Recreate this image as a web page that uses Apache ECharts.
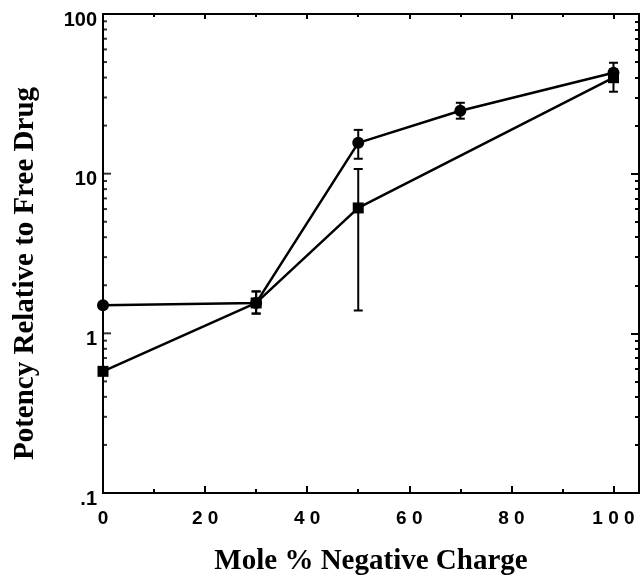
<!DOCTYPE html>
<html><head><meta charset="utf-8">
<script src="https://cdn.jsdelivr.net/npm/echarts@6/dist/echarts.min.js"></script>
<style>html,body{margin:0;padding:0;background:#fff}#c{width:641px;height:578px}</style>
</head><body><div id="c"></div>
<script>
const circleX = [0, 30, 50, 70, 100];
const circleY = [1.5, 1.55, 15.6, 24.8, 42.9];
const circleLow = [null, 1.33, 12.4, 22.1, 37.5];
const circleHigh = [null, 1.83, 18.8, 27.8, 49.5];
const squareX = [0, 30, 50, 100];
const squareY = [0.578, 1.55, 6.1, 39.9];
const squareLow = [null, 1.33, 1.39, 32.6];
const squareHigh = [null, 1.83, 10.7, 45];
const xMajorTicks = [0, 20, 40, 60, 80, 100];
const xMinorTicks = [10, 30, 50, 70, 90];
const xTickLabels = ['0', '2 0', '4 0', '6 0', '8 0', '1 0 0'];
const yMajorTicks = [0.1, 1, 10, 100];
const yMinorTicks = [0.2, 0.3, 0.4, 0.5, 0.6, 0.7, 0.8, 0.9, 2, 3, 4, 5, 6, 7, 8, 9, 20, 30, 40, 50, 60, 70, 80, 90];
const yTickLabels = ['.1', '1', '10', '100'];
const xTitle = 'Mole % Negative Charge';
const yTitle = 'Potency Relative to Free Drug';

const chart = echarts.init(document.getElementById('c'), null, {renderer: 'canvas'});
const black = '#000';
const gridRect = {left: 103, right: 2, top: 14, bottom: 85, containLabel: false, outerBoundsMode: 'none'};

function xAx(grid, pos, ticks, len, opts) {
  return Object.assign({
    gridIndex: grid, type: 'value', position: pos, min: 0, max: 105,
    axisLine: {show: true, onZero: false, lineStyle: {color: black, width: 2}},
    axisTick: {show: true, inside: true, length: len, customValues: ticks, lineStyle: {color: black, width: 2}},
    axisLabel: {show: false},
    splitLine: {show: false}
  }, opts || {});
}
function yAx(grid, pos, ticks, len, opts) {
  return Object.assign({
    gridIndex: grid, type: 'log', logBase: 10, position: pos, min: 0.1, max: 100,
    axisLine: {show: true, onZero: pos === 'left', lineStyle: {color: black, width: 2}},
    axisTick: {show: pos === 'right', inside: true, length: len, customValues: ticks, lineStyle: {color: black, width: 2}},
    axisLabel: {show: false},
    splitLine: {show: false}
  }, opts || {});
}

function errData(xs, lo, hi) {
  const out = [];
  for (let i = 0; i < xs.length; i++) {
    if (lo[i] != null && hi[i] != null) out.push([xs[i], lo[i], hi[i]]);
  }
  return out;
}
function renderErr(params, api) {
  const x = api.value(0);
  const a = api.coord([x, api.value(1)]);
  const b = api.coord([x, api.value(2)]);
  const cap = 4.5;
  const st = {stroke: black, lineWidth: 2};
  return {type: 'group', children: [
    {type: 'line', shape: {x1: a[0], y1: a[1], x2: b[0], y2: b[1]}, style: st},
    {type: 'line', shape: {x1: a[0] - cap, y1: a[1], x2: a[0] + cap, y2: a[1]}, style: st},
    {type: 'line', shape: {x1: b[0] - cap, y1: b[1], x2: b[0] + cap, y2: b[1]}, style: st}
  ]};
}

const option = {
  animation: false,
  backgroundColor: '#fff',
  grid: [Object.assign({}, gridRect), Object.assign({}, gridRect)],
  xAxis: [
    xAx(0, 'bottom', xMajorTicks, 7, {
      axisLabel: {show: true, customValues: xMajorTicks, margin: 16, color: black,
        fontFamily: 'Liberation Sans, Arial, sans-serif', fontWeight: 'bold', fontSize: 19,
        formatter: v => xTickLabels[xMajorTicks.indexOf(v)]},
      name: xTitle, nameLocation: 'middle', nameGap: 54,
      nameTextStyle: {color: black, fontFamily: 'Liberation Serif, Times New Roman, serif', fontWeight: 'bold', fontSize: 29}
    }),
    xAx(0, 'top', xMajorTicks, 5),
    xAx(1, 'bottom', xMinorTicks, 4),
    xAx(1, 'top', xMinorTicks, 3)
  ],
  yAxis: [
    yAx(0, 'left', yMajorTicks, 8, {
      axisLabel: {show: true, customValues: yMajorTicks, margin: 6, color: black,
        fontFamily: 'Liberation Sans, Arial, sans-serif', fontWeight: 'bold', fontSize: 20,
        verticalAlign: 'top', lineHeight: 12,
        formatter: v => yTickLabels[yMajorTicks.indexOf(v)]},
      name: yTitle, nameLocation: 'middle', nameGap: 63,
      nameTextStyle: {color: black, fontFamily: 'Liberation Serif, Times New Roman, serif', fontWeight: 'bold', fontSize: 29,
        padding: [0, 40, 0, 0]}
    }),
    yAx(0, 'right', yMajorTicks, 8),
    yAx(1, 'left', yMinorTicks, 4),
    yAx(1, 'right', yMinorTicks, 4)
  ],
  series: [
    {type: 'scatter', xAxisIndex: 0, yAxisIndex: 0, silent: true, z: 5,
      data: yMajorTicks.map(v => [0, v]),
      symbol: 'rect', symbolSize: [8, 2], symbolOffset: [4, 0], itemStyle: {color: black}},
    {type: 'scatter', xAxisIndex: 0, yAxisIndex: 0, silent: true, z: 5,
      data: yMinorTicks.map(v => [0, v]),
      symbol: 'rect', symbolSize: [4, 2], symbolOffset: [2, 0], itemStyle: {color: black}},
    {type: 'line', xAxisIndex: 0, yAxisIndex: 0, data: circleX.map((x, i) => [x, circleY[i]]),
      symbol: 'circle', symbolSize: 12, lineStyle: {color: black, width: 2.5},
      itemStyle: {color: black}, z: 3},
    {type: 'line', xAxisIndex: 0, yAxisIndex: 0, data: squareX.map((x, i) => [x, squareY[i]]),
      symbol: 'rect', symbolSize: 11, lineStyle: {color: black, width: 2.5},
      itemStyle: {color: black}, z: 3},
    {type: 'custom', xAxisIndex: 0, yAxisIndex: 0, renderItem: renderErr,
      data: errData(circleX, circleLow, circleHigh), encode: {x: 0, y: [1, 2]}, z: 4},
    {type: 'custom', xAxisIndex: 0, yAxisIndex: 0, renderItem: renderErr,
      data: errData(squareX, squareLow, squareHigh), encode: {x: 0, y: [1, 2]}, z: 4}
  ]
};
chart.setOption(option);
</script>
</body></html>
